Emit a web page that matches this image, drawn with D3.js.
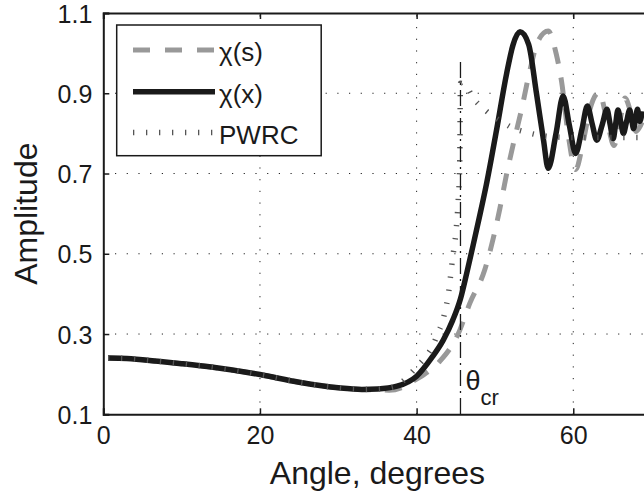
<!DOCTYPE html>
<html><head><meta charset="utf-8">
<script src="https://cdn.jsdelivr.net/npm/d3@7"></script>
<style>html,body{margin:0;padding:0;background:#fff;}svg{display:block;font-family:"Liberation Sans",Arial,sans-serif;}</style>
</head><body>
<script>
// ---- data ----
const chiXAngle = [0.6,3,7,10,14,20,25,30,33,35,37.5,40,42,43.4,44.6,45.6,46.4,47.2,48,48.9,50.2,51.5,52.3,53.2,54.3,55.3,56.2,56.8,57.8,58.7,59.5,60.3,61.1,61.8,62.4,63.0,63.7,64.3,64.7,65.1,65.4,65.7,66.05,66.4,66.8,67.2,67.45,67.7,67.95,68.2,68.5,68.8];
const chiXAmp   = [0.240,0.239,0.232,0.226,0.217,0.199,0.180,0.166,0.162,0.163,0.170,0.195,0.243,0.285,0.334,0.388,0.452,0.520,0.590,0.672,0.808,0.950,1.020,1.053,1.022,0.900,0.783,0.713,0.800,0.893,0.820,0.750,0.810,0.868,0.825,0.783,0.822,0.860,0.823,0.787,0.822,0.858,0.830,0.800,0.829,0.858,0.835,0.812,0.836,0.860,0.830,0.855];
const chiSAngle = [0.6,3,7,10,14,20,25,30,33,35,36.5,38,39.1,41,43,45.3,46.8,48.7,49.8,50.6,51.4,52.3,53.4,54.5,55.5,56.8,57.8,58.5,59.4,60.3,61.3,62.1,63.3,64.3,65.2,66.0,66.6,67.3,68.0,68.6,69.5];
const chiSAmp   = [0.240,0.239,0.232,0.226,0.217,0.199,0.180,0.166,0.162,0.161,0.160,0.166,0.178,0.200,0.233,0.300,0.377,0.460,0.540,0.610,0.690,0.770,0.860,0.960,1.030,1.055,1.000,0.930,0.790,0.710,0.783,0.858,0.902,0.833,0.770,0.835,0.888,0.855,0.805,0.820,0.870];
const pwrcAngle = [0.6,3,7,10,14,20,25,30,33,35,37,38.5,39.4,40.2,41.3,42.1,42.7,43.24,43.6,44.0,44.6,45.0,45.3,45.5,45.6,46.4,47.2,48.3,49.6,50.9,52.3,53.8,55.5,57.0,60,65,70];
const pwrcAmp   = [0.240,0.239,0.232,0.226,0.217,0.199,0.180,0.166,0.162,0.163,0.168,0.187,0.205,0.222,0.247,0.272,0.302,0.327,0.354,0.392,0.490,0.550,0.630,0.720,0.925,0.916,0.889,0.866,0.845,0.829,0.813,0.804,0.796,0.792,0.790,0.790,0.790];
const thetaCr = 45.6;
const xTicks = [0,20,40,60];
const yTicks = [0.1,0.3,0.5,0.7,0.9,1.1];
const legendLabels = ["\u03C7(s)","\u03C7(x)","PWRC"];

// ---- layout ----
const W = 644, H = 497;
const x = d3.scaleLinear().domain([0,70]).range([103.3, 651.6]);
const y = d3.scaleLinear().domain([0.1,1.1]).range([414.3, 13]);

const svg = d3.select("body").append("svg").attr("width",W).attr("height",H);
svg.append("defs").append("clipPath").attr("id","plotclip")
  .append("rect").attr("x",x(0)).attr("y",y(1.1)).attr("width",x(70)-x(0)).attr("height",y(0.1)-y(1.1));

// grid
const grid = svg.append("g").attr("stroke","#222").attr("stroke-width",1).attr("stroke-dasharray","1.2 10.5");
xTicks.filter(t=>t>0).forEach(t=>{
  grid.append("line").attr("x1",x(t)).attr("x2",x(t)).attr("y1",y(0.1)).attr("y2",y(1.1));
});
yTicks.filter(t=>t>0.1 && t<1.1).forEach(t=>{
  grid.append("line").attr("x1",x(0)).attr("x2",x(70)).attr("y1",y(t)).attr("y2",y(t));
});

// axes via d3 axis generators (inward ticks)
const ax = svg.append("g").attr("font-family","Liberation Sans, Arial, sans-serif");
const axBottom = ax.append("g").attr("transform",`translate(0,${y(0.1)})`)
  .call(d3.axisBottom(x).tickValues(xTicks).tickSize(-6).tickPadding(12).tickFormat(d3.format("d")));
const axTop = ax.append("g").attr("transform",`translate(0,${y(1.1)})`)
  .call(d3.axisTop(x).tickValues(xTicks).tickSize(-6).tickFormat(""));
const axLeft = ax.append("g").attr("transform",`translate(${x(0)},0)`)
  .call(d3.axisLeft(y).tickValues(yTicks).tickSize(-6).tickPadding(11).tickFormat(d3.format(".1f")));
[axBottom,axTop,axLeft].forEach(g=>{
  g.select(".domain").attr("stroke","#1a1a1a").attr("stroke-width",2);
  g.selectAll(".tick line").attr("stroke","#1a1a1a").attr("stroke-width",1.5);
});
axBottom.selectAll(".tick text").attr("font-size",25).attr("fill","#1a1a1a");
axLeft.selectAll(".tick text").attr("font-size",25).attr("fill","#1a1a1a").attr("dy","0.36em");

// curves
const plot = svg.append("g").attr("clip-path","url(#plotclip)");
const line = d3.line().x(d=>x(d[0])).y(d=>y(d[1])).curve(d3.curveMonotoneX);
const zip = (a,b)=>a.map((v,i)=>[v,b[i]]);

plot.append("path").datum(zip(chiSAngle,chiSAmp)).attr("d",line)
  .attr("fill","none").attr("stroke","#999").attr("stroke-width",5).attr("stroke-dasharray","17 14");
plot.append("path").datum(zip(chiXAngle,chiXAmp)).attr("d",line)
  .attr("fill","none").attr("stroke","#1a1a1a").attr("stroke-width",5.5).attr("stroke-linejoin","round");
plot.append("path").datum(zip(pwrcAngle,pwrcAmp)).attr("d",line)
  .attr("fill","none").attr("stroke","#555").attr("stroke-width",5.5).attr("stroke-dasharray","1.3 11.7");

// theta_cr marker
plot.append("line").attr("x1",x(thetaCr)).attr("x2",x(thetaCr)).attr("y1",y(0.978)).attr("y2",y(0.1))
  .attr("stroke","#1a1a1a").attr("stroke-width",1.3).attr("stroke-dasharray","16 5 2 5");
const th = svg.append("text").attr("x",x(thetaCr)+5).attr("y",390).attr("font-size",27).attr("fill","#1a1a1a");
th.append("tspan").text("\u03B8");
th.append("tspan").attr("font-size",22).attr("dy",15).text("cr");

// axis titles
svg.append("text").attr("x",(x(0)+x(70))/2).attr("y",484).attr("text-anchor","middle")
  .attr("font-size",32).attr("fill","#1a1a1a").text("Angle, degrees");
svg.append("text").attr("transform",`translate(37,${(y(0.1)+y(1.1))/2}) rotate(-90)`).attr("text-anchor","middle")
  .attr("font-size",32).attr("fill","#1a1a1a").text("Amplitude");

// legend
const lg = svg.append("g");
lg.append("rect").attr("x",116.7).attr("y",25).attr("width",204.5).attr("height",130.7)
  .attr("fill","#fff").attr("stroke","#1a1a1a").attr("stroke-width",1.5);
const styles = [
  {stroke:"#999", w:5, dash:"17 15"},
  {stroke:"#1a1a1a", w:5.5, dash:null},
  {stroke:"#555", w:5.5, dash:"1.3 11.7"}
];
const rowY = [50, 91.7, 132.5];
legendLabels.forEach((lab,i)=>{
  const l = lg.append("line").attr("x1",133).attr("x2",215).attr("y1",rowY[i]).attr("y2",rowY[i])
    .attr("stroke",styles[i].stroke).attr("stroke-width",styles[i].w);
  if (styles[i].dash) l.attr("stroke-dasharray",styles[i].dash);
  lg.append("text").attr("x",219).attr("y",rowY[i]+11).attr("font-size",26).attr("fill","#1a1a1a").text(lab);
});
</script>
</body></html>
